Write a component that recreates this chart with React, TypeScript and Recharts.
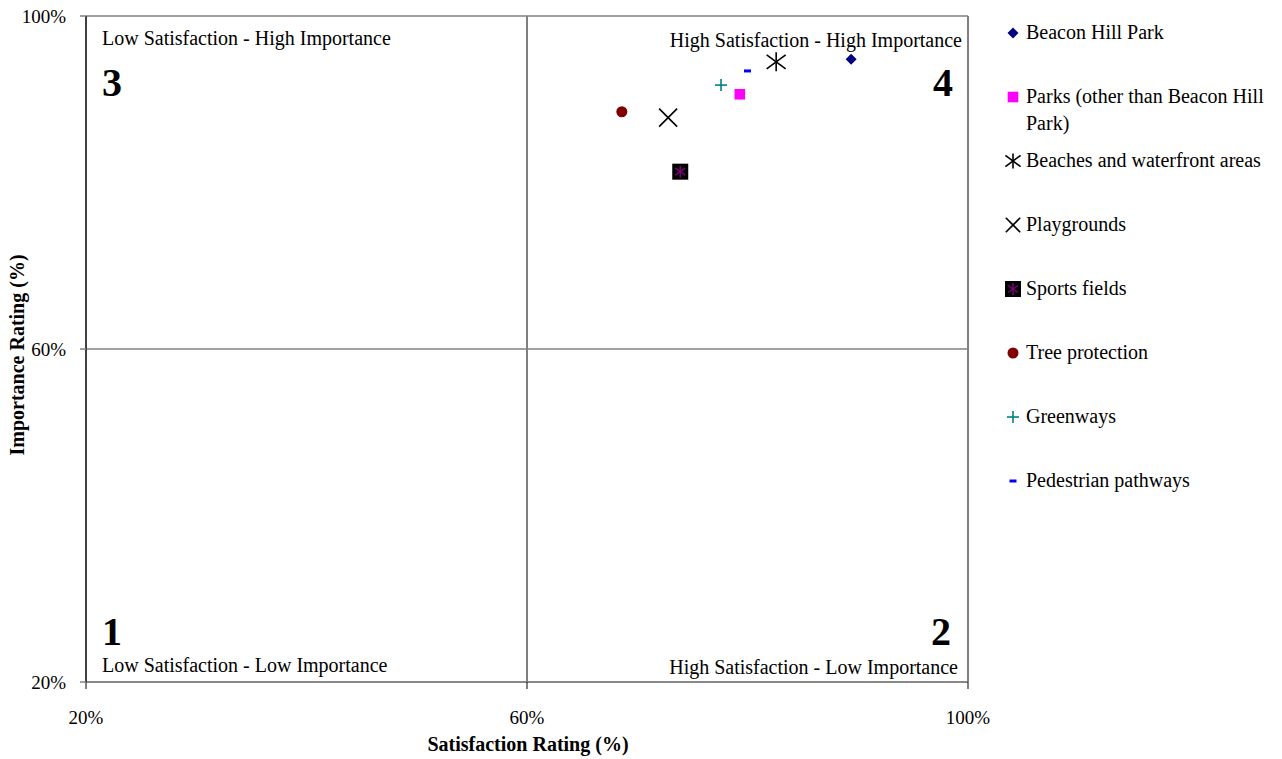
import React from 'react';
import { ScatterChart, Scatter, XAxis, YAxis, CartesianGrid, Customized } from 'recharts';

// --- Data ---
const services = [
  'Beacon Hill Park',
  'Parks (other than Beacon Hill Park)',
  'Beaches and waterfront areas',
  'Playgrounds',
  'Sports fields',
  'Tree protection',
  'Greenways',
  'Pedestrian pathways',
];
const satisfaction = [89.4, 79.3, 82.6, 72.8, 73.9, 68.6, 77.6, 80.0];
const importance = [94.8, 90.6, 94.5, 87.8, 81.3, 88.5, 91.7, 93.4];
const markerKinds = ['diamond', 'square', 'asterisk', 'cross', 'boxStar', 'circle', 'plus', 'dash'];
const axisTicks = [20, 60, 100];

const FONT = '"Liberation Serif", "Times New Roman", serif';

const W = 1282;
const H = 759;
const PLOT = { left: 86, top: 16, right: 968, bottom: 682 };

// legend glyph scale per marker kind (the line-drawn ones are a bit smaller there)
const legendScale: Record<string, number> = { asterisk: 0.8, cross: 0.8 };

// --- Marker glyphs ---
const drawMarker = (kind: string, cx: number, cy: number, k = 1) => {
  switch (kind) {
    case 'diamond': {
      const s = 5.5 * k;
      return <polygon points={`${cx},${cy - s} ${cx + s},${cy} ${cx},${cy + s} ${cx - s},${cy}`} fill="#000080" />;
    }
    case 'square': {
      const s = 5.3 * k;
      return <rect x={cx - s} y={cy - s} width={s * 2} height={s * 2} fill="#FF00FF" />;
    }
    case 'asterisk': {
      const a = 9.5 * k;
      const b = 7 * k;
      return (
        <g stroke="#000" strokeWidth={1.6}>
          <line x1={cx - a} y1={cy - b} x2={cx + a} y2={cy + b} />
          <line x1={cx - a} y1={cy + b} x2={cx + a} y2={cy - b} />
          <line x1={cx} y1={cy - a} x2={cx} y2={cy + a} />
        </g>
      );
    }
    case 'cross': {
      const a = 9 * k;
      return (
        <g stroke="#000" strokeWidth={1.6}>
          <line x1={cx - a} y1={cy - a} x2={cx + a} y2={cy + a} />
          <line x1={cx - a} y1={cy + a} x2={cx + a} y2={cy - a} />
        </g>
      );
    }
    case 'boxStar': {
      const s = 8 * k;
      const a = 5 * k;
      const b = 3.5 * k;
      return (
        <g>
          <rect x={cx - s} y={cy - s} width={s * 2} height={s * 2} fill="#000" />
          <g stroke="#800080" strokeWidth={1.4}>
            <line x1={cx - a} y1={cy - b} x2={cx + a} y2={cy + b} />
            <line x1={cx - a} y1={cy + b} x2={cx + a} y2={cy - b} />
            <line x1={cx} y1={cy - a - 1} x2={cx} y2={cy + a + 1} />
          </g>
        </g>
      );
    }
    case 'circle':
      return <circle cx={cx} cy={cy} r={5.5 * k} fill="#800000" />;
    case 'plus': {
      const a = 6 * k;
      return (
        <g stroke="#008080" strokeWidth={1.6}>
          <line x1={cx - a} y1={cy} x2={cx + a} y2={cy} />
          <line x1={cx} y1={cy - a} x2={cx} y2={cy + a} />
        </g>
      );
    }
    case 'dash':
      return <rect x={cx - 3.5 * k} y={cy - 1.5} width={7 * k} height={3} fill="#0000FF" />;
    default:
      return null;
  }
};

// Quadrant captions, numbers and axis titles
const Annotations = () => (
  <g fontFamily={FONT} fill="#000">
    <text x={102} y={45} fontSize={20}>Low Satisfaction - High Importance</text>
    <text x={962} y={47} fontSize={20} textAnchor="end">High Satisfaction - High Importance</text>
    <text x={102} y={672} fontSize={20}>Low Satisfaction - Low Importance</text>
    <text x={958} y={674} fontSize={20} textAnchor="end">High Satisfaction - Low Importance</text>
    <text x={102} y={96} fontSize={40} fontWeight="bold">3</text>
    <text x={953} y={96} fontSize={40} fontWeight="bold" textAnchor="end">4</text>
    <text x={102} y={645} fontSize={40} fontWeight="bold">1</text>
    <text x={951} y={645} fontSize={40} fontWeight="bold" textAnchor="end">2</text>
    <text x={528} y={751} fontSize={20} fontWeight="bold" textAnchor="middle">Satisfaction Rating (%)</text>
    <text
      x={24}
      y={355}
      fontSize={20}
      fontWeight="bold"
      textAnchor="middle"
      transform="rotate(-90, 24, 355)"
    >
      Importance Rating (%)
    </text>
  </g>
);

const LegendBox = () => (
  <div
    style={{
      position: 'absolute',
      left: 1000,
      top: 19,
      width: 282,
      fontFamily: FONT,
      fontSize: 20,
      color: '#000',
    }}
  >
    {services.map((name, i) => (
      <div key={name} style={{ display: 'flex', alignItems: 'flex-start', height: 64 }}>
        <svg width={26} height={28} style={{ flex: 'none' }}>
          {drawMarker(markerKinds[i], 13, 14, legendScale[markerKinds[i]] ?? 1)}
        </svg>
        <span style={{ lineHeight: '27px', width: 250 }}>{name}</span>
      </div>
    ))}
  </div>
);

const App: React.FC = () => {
  return (
    <div style={{ position: 'absolute', left: 0, top: 0, width: W, height: H, background: '#fff' }}>
      <ScatterChart
        width={W}
        height={H}
        margin={{ top: PLOT.top, right: W - PLOT.right, bottom: 0, left: 0 }}
      >
        <CartesianGrid horizontal={false} stroke="#000" strokeWidth={1} />
        <CartesianGrid vertical={false} stroke="#808080" strokeWidth={1.5} />
        <XAxis
          type="number"
          dataKey="x"
          domain={[20, 100]}
          ticks={axisTicks}
          height={H - PLOT.bottom}
          tickFormatter={(v: number) => `${v}%`}
          axisLine={{ stroke: '#808080', strokeWidth: 1.5 }}
          tickLine={{ stroke: '#000' }}
          tickSize={7}
          tickMargin={22}
          tick={{ fill: '#000', fontSize: 19, fontFamily: FONT }}
        />
        <YAxis
          type="number"
          dataKey="y"
          domain={[20, 100]}
          ticks={axisTicks}
          width={PLOT.left}
          tickFormatter={(v: number) => `${v}%`}
          axisLine={{ stroke: '#000' }}
          tickLine={{ stroke: '#808080', strokeWidth: 1.5 }}
          tickSize={6}
          tickMargin={14}
          tick={{ fill: '#000', fontSize: 19, fontFamily: FONT }}
        />
        {services.map((name, i) => (
          <Scatter
            key={name}
            name={name}
            data={[{ x: satisfaction[i], y: importance[i] }]}
            isAnimationActive={false}
            shape={(p: any) => drawMarker(markerKinds[i], p.cx, p.cy)}
          />
        ))}
        <Customized component={<Annotations />} />
      </ScatterChart>
      <LegendBox />
    </div>
  );
};

export default App;
